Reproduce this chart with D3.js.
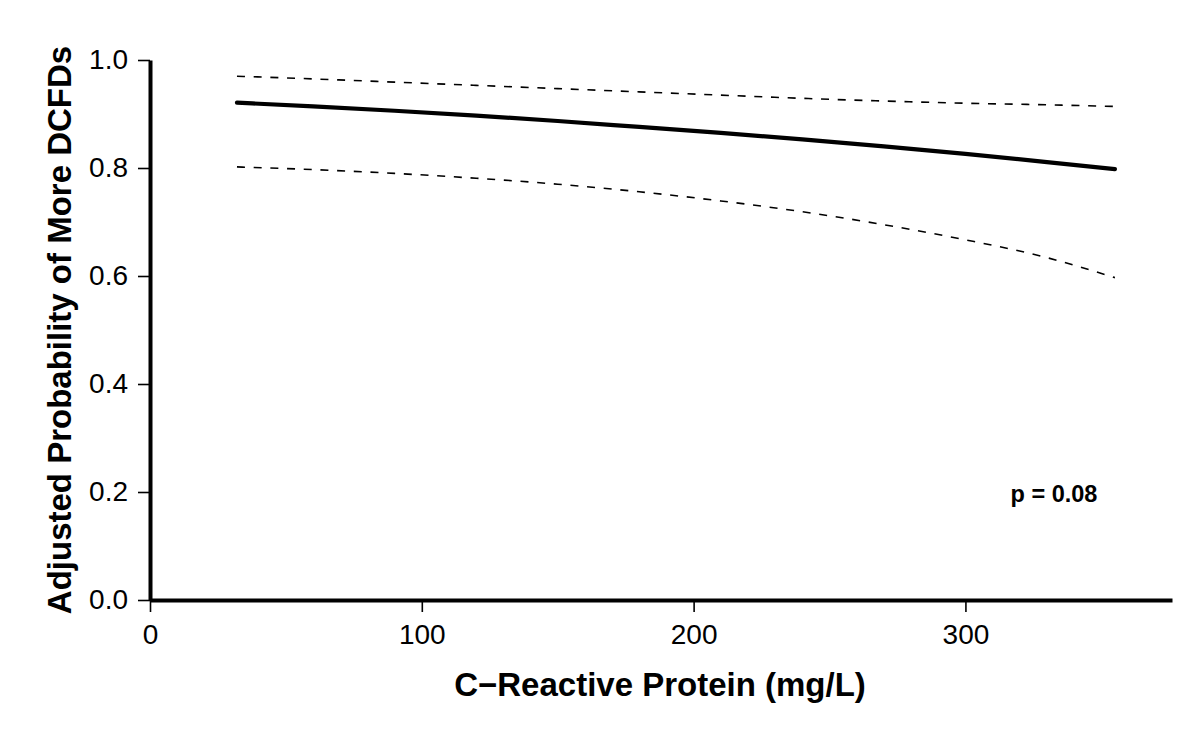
<!DOCTYPE html>
<html>
<head>
<meta charset="utf-8">
<script src="https://cdn.jsdelivr.net/npm/d3@7"></script>
<style>
  html, body { margin: 0; padding: 0; background: #fff; }
  svg { display: block; font-family: "Liberation Sans", Arial, Helvetica, sans-serif; }
</style>
</head>
<body>
<svg id="chart" width="1200" height="750"></svg>
<script>
// ---- data ----
const crp      = [32, 60, 90, 120, 150, 180, 210, 240, 270, 300, 330, 355];
const estimate = [0.921, 0.914, 0.906, 0.897, 0.887, 0.876, 0.865, 0.853, 0.840, 0.826, 0.811, 0.798];
const upperCI  = [0.970, 0.965, 0.959, 0.953, 0.947, 0.941, 0.935, 0.929, 0.924, 0.920, 0.917, 0.914];
const lowerCI  = [0.802, 0.797, 0.790, 0.781, 0.770, 0.756, 0.739, 0.719, 0.695, 0.667, 0.634, 0.597];
const xTicks = [0, 100, 200, 300];
const yTicks = [0.0, 0.2, 0.4, 0.6, 0.8, 1.0];
const xLabel = "C\u2212Reactive Protein (mg/L)";
const yLabel = "Adjusted Probability of More DCFDs";
const pLabel = "p = 0.08";

const svg = d3.select("#chart");
const x = d3.scaleLinear().domain([0, 376]).range([150, 1172]);
const y = d3.scaleLinear().domain([0, 1]).range([600, 60]);

// x axis
const gx = svg.append("g").attr("transform", `translate(0,${y(0)})`)
  .call(d3.axisBottom(x).tickValues(xTicks).tickFormat(d3.format("d")).tickSize(12).tickSizeOuter(0).tickPadding(12));
gx.select(".domain").attr("stroke", "#000").attr("stroke-width", 4);
gx.selectAll(".tick line").attr("stroke", "#000").attr("stroke-width", 1.6);
gx.selectAll(".tick text").attr("font-size", 28).attr("fill", "#000")
  .attr("font-family", "'Liberation Sans', Arial, sans-serif");

// y axis
const gy = svg.append("g").attr("transform", `translate(${x(0)},0)`)
  .call(d3.axisLeft(y).tickValues(yTicks).tickFormat(d3.format(".1f")).tickSize(12).tickSizeOuter(0).tickPadding(10));
gy.select(".domain").attr("stroke", "#000").attr("stroke-width", 4);
gy.selectAll(".tick line").attr("stroke", "#000").attr("stroke-width", 1.6);
gy.selectAll(".tick text").attr("font-size", 28).attr("fill", "#000")
  .attr("font-family", "'Liberation Sans', Arial, sans-serif");

// lines
const line = (vals) => d3.line().x((d, i) => x(crp[i])).y(d => y(d)).curve(d3.curveMonotoneX)(vals);

svg.append("path").attr("d", line(upperCI)).attr("fill", "none")
  .attr("stroke", "#000").attr("stroke-width", 1.6).attr("stroke-dasharray", "8,8.7");
svg.append("path").attr("d", line(lowerCI)).attr("fill", "none")
  .attr("stroke", "#000").attr("stroke-width", 1.6).attr("stroke-dasharray", "8,8.7");
svg.append("path").attr("d", line(estimate)).attr("fill", "none")
  .attr("stroke", "#000").attr("stroke-width", 4.2).attr("stroke-linecap", "round");

// labels
svg.append("text").attr("x", 660).attr("y", 696).attr("text-anchor", "middle")
  .attr("font-size", 33).attr("font-weight", "bold").text(xLabel);
svg.append("text").attr("transform", "translate(71,330) rotate(-90)").attr("text-anchor", "middle")
  .attr("font-size", 33).attr("font-weight", "bold").text(yLabel);
svg.append("text").attr("x", 1054).attr("y", 502).attr("text-anchor", "middle")
  .attr("font-size", 23.5).attr("font-weight", "bold").text(pLabel);
</script>
</body>
</html>
